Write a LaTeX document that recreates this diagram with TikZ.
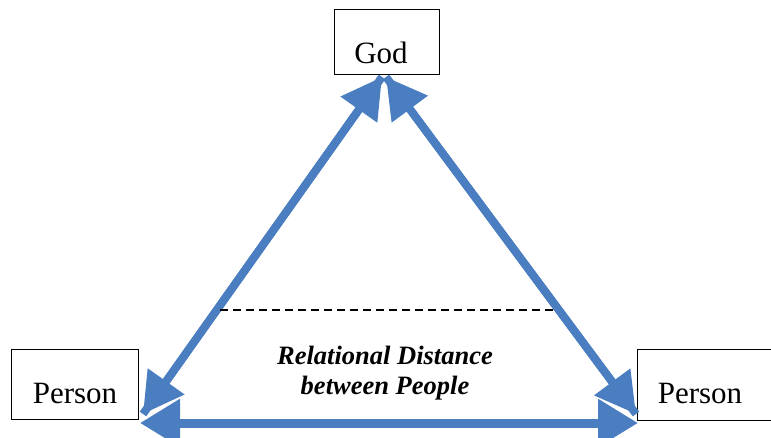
\documentclass[tikz,border=0pt]{standalone}
\usepackage{fontspec}
\setmainfont{Liberation Serif}
\usetikzlibrary{arrows.meta}
\definecolor{arrowblue}{RGB}{74,126,193}
\begin{document}
\begin{tikzpicture}[x=1pt,y=-1pt,
  box/.style={draw=black,line width=1pt,inner sep=0pt},
  lbl/.style={anchor=base,inner sep=0pt,font=\fontsize{31}{37}\selectfont},
  rel/.style={-{Triangle[length=40pt,width=43pt]},arrowblue,line width=8pt},
  relboth/.style={{Triangle[length=40pt,width=46pt]}-{Triangle[length=40pt,width=46pt]},arrowblue,line width=9pt}]
\useasboundingbox (0,0) rectangle (771,437);
% boxes
\node[box,minimum width=105pt,minimum height=65pt] (godbox) at (386.5,41.5) {};
\node[lbl] (god) at (381,63) {God};
\node[box,minimum width=127pt,minimum height=70pt] (lbox) at (74.5,384) {};
\node[lbl] (lperson) at (75,403) {Person};
\node[box,minimum width=150pt,minimum height=71pt] (rbox) at (712,384.5) {};
\node[lbl] (rperson) at (700,403) {Person};
% tips
\coordinate (topL) at (382,77);
\coordinate (topR) at (386,77);
\coordinate (botL) at (143,414);
\coordinate (botR) at (636,414);
\coordinate (baseL) at (140,423);
\coordinate (baseR) at (638,423);
% arrows
\draw[rel] (botL) -- (topL);
\draw[rel] (topL) -- (botL);
\draw[rel] (botR) -- (topR);
\draw[rel] (topR) -- (botR);
\draw[relboth] (baseL) -- (baseR);
% dashed line
\coordinate (dashL) at (220,310);
\coordinate (dashR) at (555,310);
\draw[black,line width=1.5pt,dash pattern=on 8pt off 5pt] (dashL) -- (dashR);
% text
\node[anchor=base,inner sep=0pt,align=center,font=\fontsize{26.5}{30}\selectfont\bfseries\itshape] (reltext) at (385,394) {Relational Distance\\between People};
\end{tikzpicture}
\end{document}
